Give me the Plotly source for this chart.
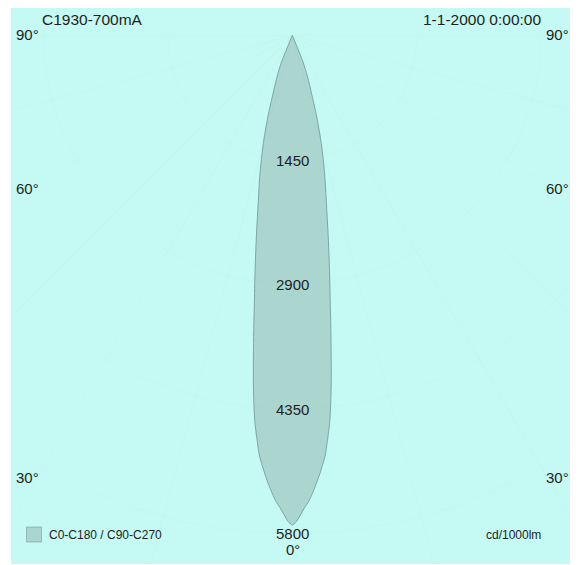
import plotly.graph_objects as go
import numpy as np

# intensity distribution, cd/1000lm, gamma angle measured from nadir
gamma = [0, 0.5, 1, 1.5, 2, 2.5, 3, 3.5, 4, 4.5, 5, 5.5, 6, 6.5, 7, 7.5, 8,
         9, 10, 11, 12, 13, 14, 15, 16, 17, 18, 19, 20, 21, 22, 23, 24, 90]
c0_c180 = [5700, 5660, 5580, 5500, 5430, 5340, 5240, 5135, 5020, 4900, 4720,
           4535, 4290, 4010, 3710, 3440, 3180, 2770, 2420, 2120, 1880, 1685,
           1490, 1305, 1120, 940, 760, 635, 535, 440, 345, 60, 0, 0]

ring_values = [1450, 2900, 4350, 5800]
angle_ticks = [90, 60, 30]
angle_label_rows = [34, 188, 477]   # pixel rows of the angle labels

title_left = "C1930-700mA"
title_right = "1-1-2000 0:00:00"
unit_text = "cd/1000lm"
series_name = "C0-C180 / C90-C270"

# the page body adds an 8px margin, so the figure is drawn 8px smaller
OFF = 8
W, H = 578 - OFF, 565 - OFF
L, R, T, B = 3, 5, 0, 1
px_per_ring = 124.5
scale = ring_values[0] / px_per_ring      # cd per pixel
cx, cy = 292.3 - OFF, 35.5 - OFF          # pixel position of the origin

x_rng = [-(cx - L) * scale, (W - R - cx) * scale]
y_rng = [-(H - B - cy) * scale, (cy - T) * scale]


def px(x):
    return (x - OFF - L) / (W - L - R)


def py(y):
    return (H - B - (y - OFF)) / (H - T - B)


g = np.radians(gamma)
I = np.array(c0_c180, dtype=float)
# right half is C0, left half mirrors it (C180)
xs = np.concatenate([I * np.sin(g), (-I * np.sin(g))[::-1]])
ys = np.concatenate([-I * np.cos(g), (-I * np.cos(g))[::-1]])

fig = go.Figure()

# very faint polar grid
grid_col = "rgba(70,120,120,0.022)"
t = np.linspace(-np.pi / 2, np.pi / 2, 361)
for r in ring_values + [7250, 8700]:
    fig.add_trace(go.Scatter(x=r * np.sin(t), y=-r * np.cos(t), mode="lines",
                             line=dict(color=grid_col, width=1),
                             hoverinfo="skip", showlegend=False))
for a in [15, 30, 45, 60, 75, 90]:
    ar = np.radians(a)
    for sgn in (-1, 1):
        fig.add_trace(go.Scatter(x=[0, sgn * 9000 * np.sin(ar)],
                                 y=[0, -9000 * np.cos(ar)], mode="lines",
                                 line=dict(color=grid_col, width=1),
                                 hoverinfo="skip", showlegend=False))

fig.add_trace(go.Scatter(
    x=xs, y=ys, mode="lines", fill="toself",
    fillcolor="rgba(125,150,145,0.36)",
    line=dict(color="#7aa6a1", width=1, shape="spline", smoothing=0.6),
    name=series_name, showlegend=False
))

font = dict(family="Liberation Sans, Arial, sans-serif", size=15, color="#1e1e1e")
big = dict(family="Liberation Sans, Arial, sans-serif", size=15.5, color="#1e1e1e")
small = dict(family="Liberation Sans, Arial, sans-serif", size=12, color="#1e1e1e")

for r in ring_values:
    fig.add_annotation(x=0, y=-r, text=str(r), showarrow=False, font=font,
                       xanchor="center", yanchor="middle")
fig.add_annotation(xref="paper", yref="paper", x=px(293), y=py(549), text="0°",
                   showarrow=False, font=font, xanchor="center", yanchor="middle")

for a, row in zip(angle_ticks, angle_label_rows):
    fig.add_annotation(xref="paper", yref="paper", x=px(14), y=py(row),
                       text=f"{a}°", showarrow=False, font=font,
                       xanchor="left", yanchor="middle")
    fig.add_annotation(xref="paper", yref="paper", x=px(571), y=py(row),
                       text=f"{a}°", showarrow=False, font=font,
                       xanchor="right", yanchor="middle")

fig.add_annotation(xref="paper", yref="paper", x=px(40), y=py(19.5),
                   text=title_left, showarrow=False, font=big,
                   xanchor="left", yanchor="middle")
fig.add_annotation(xref="paper", yref="paper", x=px(543), y=py(19.5),
                   text=title_right, showarrow=False, font=big,
                   xanchor="right", yanchor="middle")
fig.add_annotation(xref="paper", yref="paper", x=px(543), y=py(535),
                   text=unit_text, showarrow=False, font=small,
                   xanchor="right", yanchor="middle")

# legend swatch
fig.add_shape(type="rect", xref="paper", yref="paper",
              x0=px(26.5), x1=px(41.5), y0=py(542), y1=py(527),
              fillcolor="rgba(125,150,145,0.36)",
              line=dict(color="rgba(110,140,135,0.5)", width=1))
fig.add_annotation(xref="paper", yref="paper", x=px(47), y=py(534.5),
                   text=series_name, showarrow=False, font=small,
                   xanchor="left", yanchor="middle")

fig.update_layout(
    width=W, height=H,
    margin=dict(l=L, r=R, t=T, b=B),
    paper_bgcolor="white",
    plot_bgcolor="#c5f9f3",
    showlegend=False
)
fig.update_xaxes(range=x_rng, visible=False, fixedrange=True)
fig.update_yaxes(range=y_rng, visible=False, fixedrange=True)

fig.write_html("out.html")
